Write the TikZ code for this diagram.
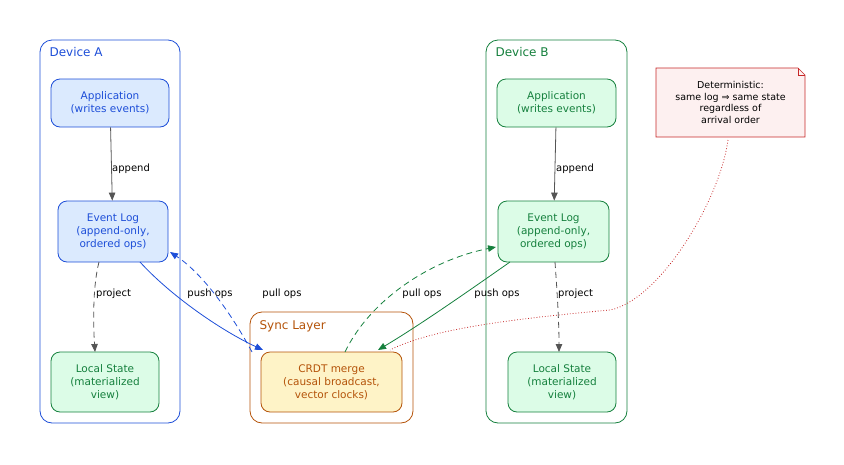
\documentclass[tikz,border=0pt]{standalone}
\usepackage{fontspec}
\setmainfont{DejaVu Sans}
\usetikzlibrary{arrows.meta}
\definecolor{bl}{HTML}{1D4ED8}
\definecolor{blf}{HTML}{DBEAFE}
\definecolor{gr}{HTML}{15803D}
\definecolor{grf}{HTML}{DCFCE7}
\definecolor{or}{HTML}{B45309}
\definecolor{orf}{HTML}{FEF3C7}
\definecolor{rd}{HTML}{C62828}
\definecolor{rdf}{HTML}{FDF0F0}
\definecolor{eg}{HTML}{555555}
\tikzset{
 box/.style={rounded corners=9pt,draw,line width=0.8pt,align=center,font=\fontsize{10.5}{13}\selectfont,inner sep=0pt},
 bbox/.style={box,draw=bl,fill=blf,text=bl},
 gbox/.style={box,draw=gr,fill=grf,text=gr},
 obox/.style={box,draw=or,fill=orf,text=or},
 clus/.style={rounded corners=12pt,draw,line width=0.8pt},
 ctl/.style={anchor=west,font=\fontsize{12}{14}\selectfont},
 lab/.style={font=\fontsize{10}{12}\selectfont,text=black,inner sep=1pt},
 ar/.style={-{Triangle[length=8pt,width=6.5pt]},line width=0.8pt},
 dsh/.style={dash pattern=on 6pt off 4pt},
}
\begin{document}
\begin{tikzpicture}[x=1pt,y=-1pt]
\useasboundingbox (0,0) rectangle (844,464);
% clusters
\draw[clus,draw=bl] (40,40) rectangle (180,423);
\node[ctl,text=bl] (ta) at (46,52) {Device A};
\draw[clus,draw=gr] (486,40) rectangle (627,423);
\node[ctl,text=gr] (tb) at (492,52) {Device B};
\draw[clus,draw=or] (250,312) rectangle (413,423);
\node[ctl,text=or] (ts) at (256,326) {Sync Layer};
% nodes
\node[bbox,minimum width=118pt,minimum height=48pt] (aapp) at (110,103) {Application\\(writes events)};
\node[bbox,minimum width=110pt,minimum height=61pt] (alog) at (113,231.5) {Event Log\\(append-only,\\ordered ops)};
\node[gbox,minimum width=108pt,minimum height=60pt] (ast) at (105,382) {Local State\\(materialized\\view)};
\node[gbox,minimum width=119pt,minimum height=48pt] (bapp) at (556.5,103) {Application\\(writes events)};
\node[gbox,minimum width=111pt,minimum height=61pt] (blog) at (553.5,231.5) {Event Log\\(append-only,\\ordered ops)};
\node[gbox,minimum width=108pt,minimum height=60pt] (bst) at (562,382) {Local State\\(materialized\\view)};
\node[obox,minimum width=141pt,minimum height=60pt] (crdt) at (331.5,382) {CRDT merge\\(causal broadcast,\\vector clocks)};
\draw[rd,fill=rdf,line width=0.7pt] (656,68) -- (798,68) -- (805,75) -- (805,137) -- (656,137) -- cycle;
\draw[rd,line width=0.7pt] (798,68) -- (798,75) -- (805,75);
\node[align=center,font=\fontsize{9.5}{11.5}\selectfont,inner sep=1pt] (note) at (730.5,102.5) {Deterministic:\\same log ⇒ same state\\regardless of\\arrival order};
\coordinate (nb) at (728,140);
% edges
\draw[ar,eg] (aapp) -- (alog);
\node[lab,anchor=west] (l1) at (111,169) {append};
\draw[ar,eg] (bapp) -- (blog);
\node[lab,anchor=west] (l2) at (555,169) {append};
\draw[ar,eg,dsh] (99,262) .. controls (93,285) and (93,320) .. (95,352);
\node[lab,anchor=west] (l3) at (95,294) {project};
\draw[ar,eg,dsh] (555,262) .. controls (557,290) and (559,320) .. (559,352);
\node[lab,anchor=west] (l4) at (557,294) {project};
\draw[ar,bl] (140,262) .. controls (170,295) and (220,330) .. (263,350);
\node[lab] (l5) at (210,294) {push ops};
\draw[ar,bl,dsh] (252,352) .. controls (235,320) and (205,275) .. (170,252);
\node[lab] (l6) at (282,294) {pull ops};
\draw[ar,gr,dsh] (345,352) .. controls (370,300) and (430,260) .. (496,247);
\node[lab] (l7) at (422,294) {pull ops};
\draw[ar,gr] (510,262) .. controls (470,290) and (420,325) .. (378,350);
\node[lab] (l8) at (497,294) {push ops};
\draw[rd,dotted,line width=0.8pt] (nb) .. controls (720,200) and (660,300) .. (610,310) .. controls (500,320) and (430,330) .. (390,350);
\end{tikzpicture}
\end{document}
